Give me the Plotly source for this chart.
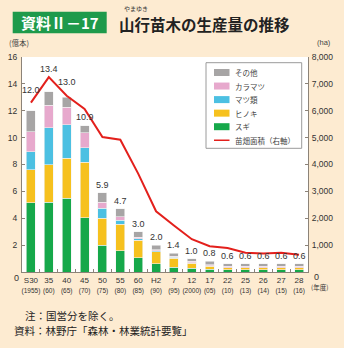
import plotly.graph_objects as go

# ---------------- data ----------------
years = ["S30", "35", "40", "45", "50", "55", "60", "H2", "7", "12", "17", "22", "25", "26", "27", "28"]
years_west = ["(1955)", "(60)", "(65)", "(70)", "(75)", "(80)", "(85)", "(90)", "(95)", "(2000)",
              "(05)", "(10)", "(13)", "(14)", "(15)", "(16)"]

sugi      = [5.15, 5.20, 5.50, 4.05, 2.00, 1.60, 1.05, 0.60, 0.37, 0.27, 0.20, 0.17, 0.17, 0.17, 0.17, 0.17]
hinoki    = [2.47, 2.80, 2.95, 4.10, 2.00, 1.95, 1.30, 0.90, 0.65, 0.40, 0.22, 0.13, 0.13, 0.13, 0.13, 0.13]
matsu     = [1.33, 2.75, 2.50, 1.10, 0.75, 0.30, 0.12, 0.07, 0.08, 0.03, 0.03, 0.03, 0.03, 0.03, 0.03, 0.03]
karamatsu = [1.50, 1.65, 1.30, 1.10, 0.45, 0.25, 0.13, 0.10, 0.08, 0.10, 0.10, 0.10, 0.10, 0.10, 0.10, 0.10]
sonota    = [1.55, 1.00, 0.75, 0.55, 0.70, 0.60, 0.40, 0.33, 0.22, 0.20, 0.25, 0.17, 0.17, 0.17, 0.17, 0.17]

totals = [12.0, 13.4, 13.0, 10.9, 5.9, 4.7, 3.0, 2.0, 1.4, 1.0, 0.8, 0.6, 0.6, 0.6, 0.6, 0.6]

nursery_area = [6300, 7250, 6560, 6070, 5020, 4920, 3660, 2260, 1730, 1220, 960, 890, 720, 690, 720, 640]

left_ticks = [2, 4, 6, 8, 10, 12, 14, 16]
right_ticks = [1000, 2000, 3000, 4000, 5000, 6000, 7000, 8000]

# ---------------- layout helpers ----------------
W, H = 344, 348
ML, MR, MT, MB = 22, 36, 57, 76
PW, PH = W - ML - MR, H - MT - MB


def px(x):
    return (x - ML) / PW


def py(y):
    return (H - MB - y) / PH


label_shift = [13.5, 15.5, 8.5, 1.5, 1, 1, 1, 1, 1, 1, 1, 1, 1, 1, 1, 1]

NUM_FONT = "Liberation Sans, Arial, Noto Sans CJK JP"
JP_FONT = "Noto Sans CJK JP"
BG = "#fdebd1"
AXIS_C = "#8c8378"
TXT = "#333333"

fig = go.Figure()

series = [
    ("スギ", sugi, "#16a84a"),
    ("ヒノキ", hinoki, "#f6c11e"),
    ("マツ類", matsu, "#4cc0e2"),
    ("カラマツ", karamatsu, "#e7a9cd"),
    ("その他", sonota, "#a7a5a5"),
]
for name, vals, col in series:
    fig.add_trace(go.Bar(
        x=years, y=vals, name=name,
        marker=dict(color=col, line=dict(color="#f2f2f2", width=0.6)),
    ))

line_name = "苗畑面積（右軸）"
line_color = "#e3201c"
fig.add_trace(go.Scatter(
    x=years, y=nursery_area, name=line_name, yaxis="y2",
    mode="lines", line=dict(color=line_color, width=2),
))

annotations = []
for i, (t, s) in enumerate(zip(totals, label_shift)):
    annotations.append(dict(
        x=i, y=t, xref="x", yref="y", text=f"{t:.1f}", showarrow=False,
        yanchor="bottom", yshift=s, font=dict(family=NUM_FONT, size=9, color=TXT),
    ))

# zero labels (shifted down below baseline)
annotations.append(dict(x=px(16), y=py(277.7), xref="paper", yref="paper", text="0", showarrow=False,
                        xanchor="center", yanchor="middle", font=dict(family=NUM_FONT, size=9, color=TXT)))
annotations.append(dict(x=px(316), y=py(276.7), xref="paper", yref="paper", text="0", showarrow=False,
                        xanchor="center", yanchor="middle", font=dict(family=NUM_FONT, size=9, color=TXT)))
# unit labels
annotations.append(dict(x=px(7), y=py(43), xref="paper", yref="paper", text="(億本)", showarrow=False,
                        xanchor="left", yanchor="middle", font=dict(family=JP_FONT, size=7.5, color="#444444")))
annotations.append(dict(x=px(323.5), y=py(43), xref="paper", yref="paper", text="(ha)", showarrow=False,
                        xanchor="center", yanchor="middle", font=dict(family=NUM_FONT, size=7.5, color="#444444")))
annotations.append(dict(x=px(309), y=py(287), xref="paper", yref="paper", text="(年度)", showarrow=False,
                        xanchor="left", yanchor="middle", font=dict(family=JP_FONT, size=6.5, color=TXT)))
# title
annotations.append(dict(x=px(59.7), y=py(22.5), xref="paper", yref="paper", text="<b>資料Ⅱ－17</b>", showarrow=False,
                        xanchor="center", yanchor="middle", font=dict(family=JP_FONT, size=15, color="white")))
annotations.append(dict(x=px(117), y=py(24), xref="paper", yref="paper", text="<b>山行苗木の生産量の推移</b>",
                        showarrow=False, xanchor="left", yanchor="middle",
                        font=dict(family=JP_FONT, size=15.5, color="#222222")))
annotations.append(dict(x=px(136), y=py(8.5), xref="paper", yref="paper", text="やまゆき", showarrow=False,
                        xanchor="center", yanchor="middle", font=dict(family=JP_FONT, size=6, color=TXT)))
# notes
annotations.append(dict(x=px(22.5), y=py(315), xref="paper", yref="paper", text="注：国営分を除く。", showarrow=False,
                        xanchor="left", yanchor="middle", font=dict(family=JP_FONT, size=10.5, color="#222222")))
annotations.append(dict(x=px(12), y=py(330), xref="paper", yref="paper", text="資料：林野庁「森林・林業統計要覧」",
                        showarrow=False, xanchor="left", yanchor="middle",
                        font=dict(family=JP_FONT, size=10.5, color="#222222")))

shapes = [dict(type="rect", xref="paper", yref="paper", x0=px(12.7), x1=px(106.7), y0=py(33.3), y1=py(11.7),
               fillcolor="#1e9a4b", line=dict(width=0), layer="below")]

# ---- legend box (drawn from the trace names/colours) ----
LX0, LX1, LY0, LY1 = 206, 301.7, 62.7, 148.3
shapes.append(dict(type="rect", xref="paper", yref="paper", x0=px(LX0), x1=px(LX1), y0=py(LY1), y1=py(LY0),
                   fillcolor="white", line=dict(color="#9a9a9a", width=1), layer="above"))
legend_items = [(n, c) for n, _, c in reversed(series)]
row_y = [72.5 + 13.55 * k for k in range(len(legend_items) + 1)]
for (name, col), yy in zip(legend_items, row_y):
    shapes.append(dict(type="rect", xref="paper", yref="paper", x0=px(214), x1=px(229.5),
                       y0=py(yy + 3.5), y1=py(yy - 3.5), fillcolor=col, line=dict(width=0), layer="above"))
    annotations.append(dict(x=px(233), y=py(yy), xref="paper", yref="paper", text=name, showarrow=False,
                            xanchor="left", yanchor="middle", font=dict(family=JP_FONT, size=7.5, color="#444444")))
yy = row_y[len(legend_items)]
shapes.append(dict(type="line", xref="paper", yref="paper", x0=px(214), x1=px(229.5), y0=py(yy), y1=py(yy),
                   line=dict(color=line_color, width=1.5), layer="above"))
annotations.append(dict(x=px(233), y=py(yy), xref="paper", yref="paper", text=line_name, showarrow=False,
                        xanchor="left", yanchor="middle", font=dict(family=JP_FONT, size=7.5, color="#444444")))

ticktext = [f"{a}<br><span style='font-size:6.5px'>{b}</span>" for a, b in zip(years, years_west)]

fig.update_layout(
    width=W, height=H, margin=dict(l=ML, r=MR, t=MT, b=MB, autoexpand=False),
    paper_bgcolor=BG, plot_bgcolor="white",
    barmode="stack", bargap=0.5,
    showlegend=False,
    xaxis=dict(type="category", tickvals=years, ticktext=ticktext, tickson="boundaries", tickangle=0,
               ticks="inside", ticklen=3, tickcolor=AXIS_C, showline=True, linecolor=AXIS_C, linewidth=1,
               showgrid=False, tickfont=dict(family=NUM_FONT, size=8, color=TXT), ticklabelstandoff=0,
               range=[-0.5, 15.5]),
    yaxis=dict(range=[0, 16], tickvals=left_ticks, ticks="inside", ticklen=3, tickcolor=AXIS_C,
               showline=True, linecolor=AXIS_C, linewidth=1, showgrid=False, zeroline=False,
               tickfont=dict(family=NUM_FONT, size=8.5, color=TXT), ticklabelstandoff=2),
    yaxis2=dict(range=[0, 8000], tickvals=right_ticks, tickformat=",", overlaying="y", side="right",
                ticks="inside", ticklen=3, tickcolor=AXIS_C, showline=True, linecolor=AXIS_C, linewidth=1,
                showgrid=False, zeroline=False,
                tickfont=dict(family=NUM_FONT, size=8.5, color=TXT), ticklabelstandoff=1),
    annotations=annotations, shapes=shapes,
)

fig.write_html("out.html")
